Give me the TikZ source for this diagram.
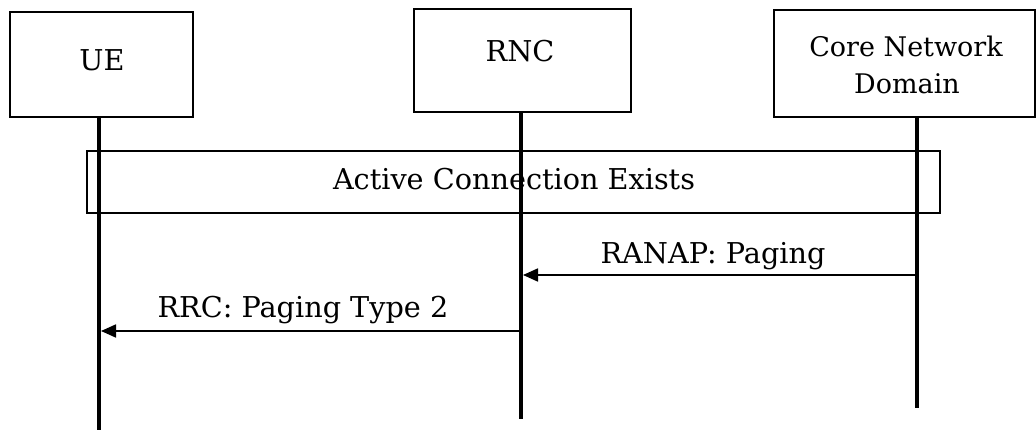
\documentclass[tikz,border=0pt]{standalone}
\usepackage{fontspec}
\setmainfont{DejaVu Serif}
\usetikzlibrary{arrows.meta}
\tikzset{
  entity/.style={draw=black, line width=1.8pt, fill=white, inner sep=0pt},
  lifeline/.style={line width=4.8pt, black},
  msg/.style={line width=1.8pt, -{Triangle[length=15pt,width=13pt]}},
  lbl/.style={font=\fontsize{28.7}{34}\selectfont, inner sep=0pt, anchor=base},
  cnlbl/.style={font=\fontsize{27}{32}\selectfont, inner sep=0pt, anchor=base},
  phase/.style={draw=black, line width=1.8pt, inner sep=0pt}
}
\begin{document}
\begin{tikzpicture}[x=1pt,y=-1pt]
\useasboundingbox (0,0) rectangle (1036,430);
% entity boxes
\node[entity, minimum width=183pt, minimum height=105pt] (ue) at (101.5,64.5) {};
\node[entity, minimum width=217pt, minimum height=103pt] (rnc) at (522.5,60.5) {};
\node[entity, minimum width=261pt, minimum height=107pt] (cn) at (904.5,63.5) {};
\node[lbl] (uetext) at (102,71) {UE};
\node[lbl] (rnctext) at (520,62) {RNC};
\node[cnlbl] (cntext) at (906,57) {Core Network};
\node[cnlbl] (cntext2) at (907,94) {Domain};
% lifeline ends
\coordinate (ueend) at (99,430);
\coordinate (rncend) at (521,419);
\coordinate (cnend) at (917,408);
% lifelines
\draw[lifeline] (ue.south -| ueend) -- (ueend);
\draw[lifeline] (rnc.south -| rncend) -- (rncend);
\draw[lifeline] (cn.south -| cnend) -- (cnend);
% active connection phase
\node[phase, minimum width=853pt, minimum height=62pt] (active) at (513.5,182) {};
\node[lbl] (activetext) at (514,190) {Active Connection Exists};
% lifelines run across the phase box
\draw[lifeline] (active.north -| ueend) -- (active.south -| ueend);
\draw[lifeline] (active.north -| rncend) -- (active.south -| rncend);
\draw[lifeline] (active.north -| cnend) -- (active.south -| cnend);
% messages
\coordinate (m1s) at (915,275);
\coordinate (m1e) at (523,275);
\coordinate (m2s) at (519,331);
\coordinate (m2e) at (101,331);
\draw[msg] (m1s) -- (m1e);
\draw[msg] (m2s) -- (m2e);
\node[lbl] (m1text) at (713,264) {RANAP: Paging};
\node[lbl] (m2text) at (303,318) {RRC: Paging Type 2};
\end{tikzpicture}
\end{document}
